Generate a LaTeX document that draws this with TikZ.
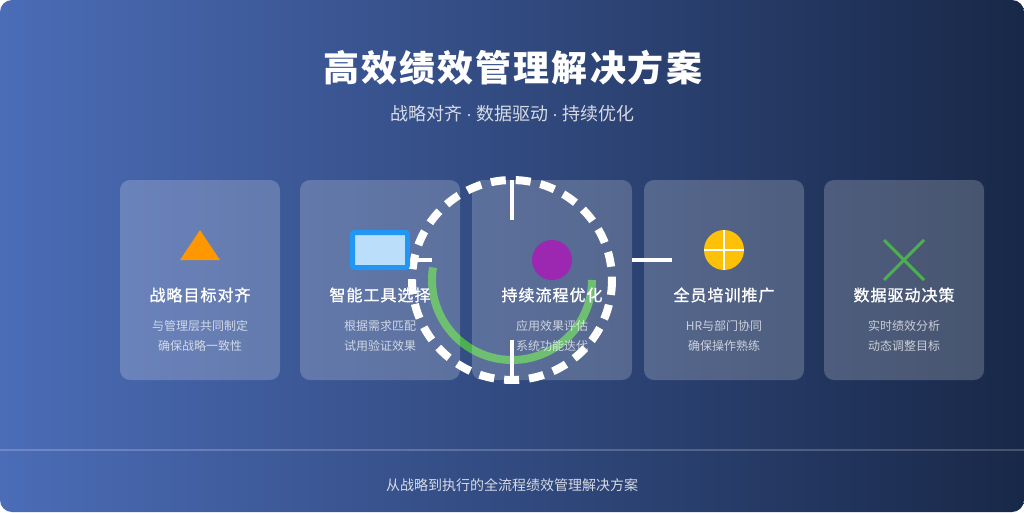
\documentclass[tikz,border=0pt]{standalone}
\usepackage{fontspec}
\setmainfont{Noto Sans CJK SC}
\newfontfamily\headfont[LetterSpace=5.56]{Noto Sans CJK SC}
\newfontfamily\cardfont[LetterSpace=6.25,FakeBold=1.2]{Noto Sans CJK SC}
\newfontfamily\dotfont{Liberation Sans}
\definecolor{bgleft}{HTML}{4B6CB7}
\definecolor{bgright}{HTML}{182848}
\definecolor{triorange}{HTML}{FF9800}
\definecolor{toolblue}{HTML}{2196F3}
\definecolor{toolpale}{HTML}{BBDEFB}
\definecolor{flowpurple}{HTML}{9C27B0}
\definecolor{trainyellow}{HTML}{FFC107}
\definecolor{datagreen}{HTML}{4CAF50}
\newcommand{\subdot}{\makebox[14pt]{\dotfont ·}}

\begin{document}
\begin{tikzpicture}[x=1pt,y=-1pt]

	\tikzstyle card box=[fill=white, fill opacity=.2, rounded corners=10pt, minimum width=160pt, minimum height=200pt, inner sep=0pt];
	\tikzstyle card title=[text=white, font={\cardfont\fontsize{16}{16}\selectfont}, inner sep=0pt];
	\tikzstyle card note=[text=white, text opacity=.7, font={\fontsize{12}{12}\selectfont}, inner sep=0pt];
	\tikzstyle clock lines=[white, line width=4pt];

	\useasboundingbox (0,0) rectangle (1024,512);
	\shade[left color=bgleft, right color=bgright, rounded corners=12pt] (0,0) rectangle (1024,512);

	\node[text=white, font={\headfont\fontsize{36}{36}\selectfont\bfseries}, inner sep=0pt] (heading) at (513,68) {高效绩效管理解决方案};
	\node[text=white, text opacity=.8, font={\fontsize{18}{18}\selectfont}, inner sep=0pt] (subheading) at (512,114) {战略对齐\subdot 数据驱动\subdot 持续优化};

	% ring and ticks, the cards lie over them
	\draw[white, line width=8pt, dash pattern=on 15pt off 10pt] (612,280) arc[start angle=0, end angle=360, radius=100];
	\draw[datagreen, line width=8pt] (592,280) arc[start angle=0, end angle=189, radius=80];
	\foreach \xa/\ya/\xb/\yb in {512/180/512/220, 512/340/512/380, 412/260/432/260, 632/260/672/260}
		\draw[clock lines] (\xa,\ya) -- (\xb,\yb);

	\foreach \n/\x/\t/\a/\b in {1/200/战略目标对齐/与管理层共同制定/确保战略一致性,
		2/380/智能工具选择/根据需求匹配/试用验证效果,
		3/552/持续流程优化/应用效果评估/系统功能迭代,
		4/724/全员培训推广/HR与部门协同/确保操作熟练,
		5/904/数据驱动决策/实时绩效分析/动态调整目标}
	{
		\node[card box] (card\n) at (\x,280) {};
		\node[card title] (title\n) at (\x,295) {\t};
		\node[card note] (notea\n) at (\x,326) {\a};
		\node[card note] (noteb\n) at (\x,346) {\b};
	}

	% icons
	\fill[triorange] (200,230) -- (220,260) -- (180,260) -- cycle;
	\draw[toolblue, fill=toolpale, line width=5pt, rounded corners=2pt] (352.5,232.5) rectangle (407.5,267.5);
	\fill[flowpurple] (552,260) circle[radius=20];
	\fill[trainyellow] (724,250) circle[radius=20];
	\draw[white, line width=2pt] (724,230) -- (724,270) (704,250) -- (744,250);
	\draw[datagreen, line width=3pt] (884,240) -- (924,280) (924,240) -- (884,280);

	\draw[white, opacity=.2, line width=2pt] (0,450) -- (1024,450);
	\node[text=white, text opacity=.8, font={\fontsize{14}{14}\selectfont}, inner sep=0pt] (footer) at (512,485) {从战略到执行的全流程绩效管理解决方案};

\end{tikzpicture}
\end{document}
